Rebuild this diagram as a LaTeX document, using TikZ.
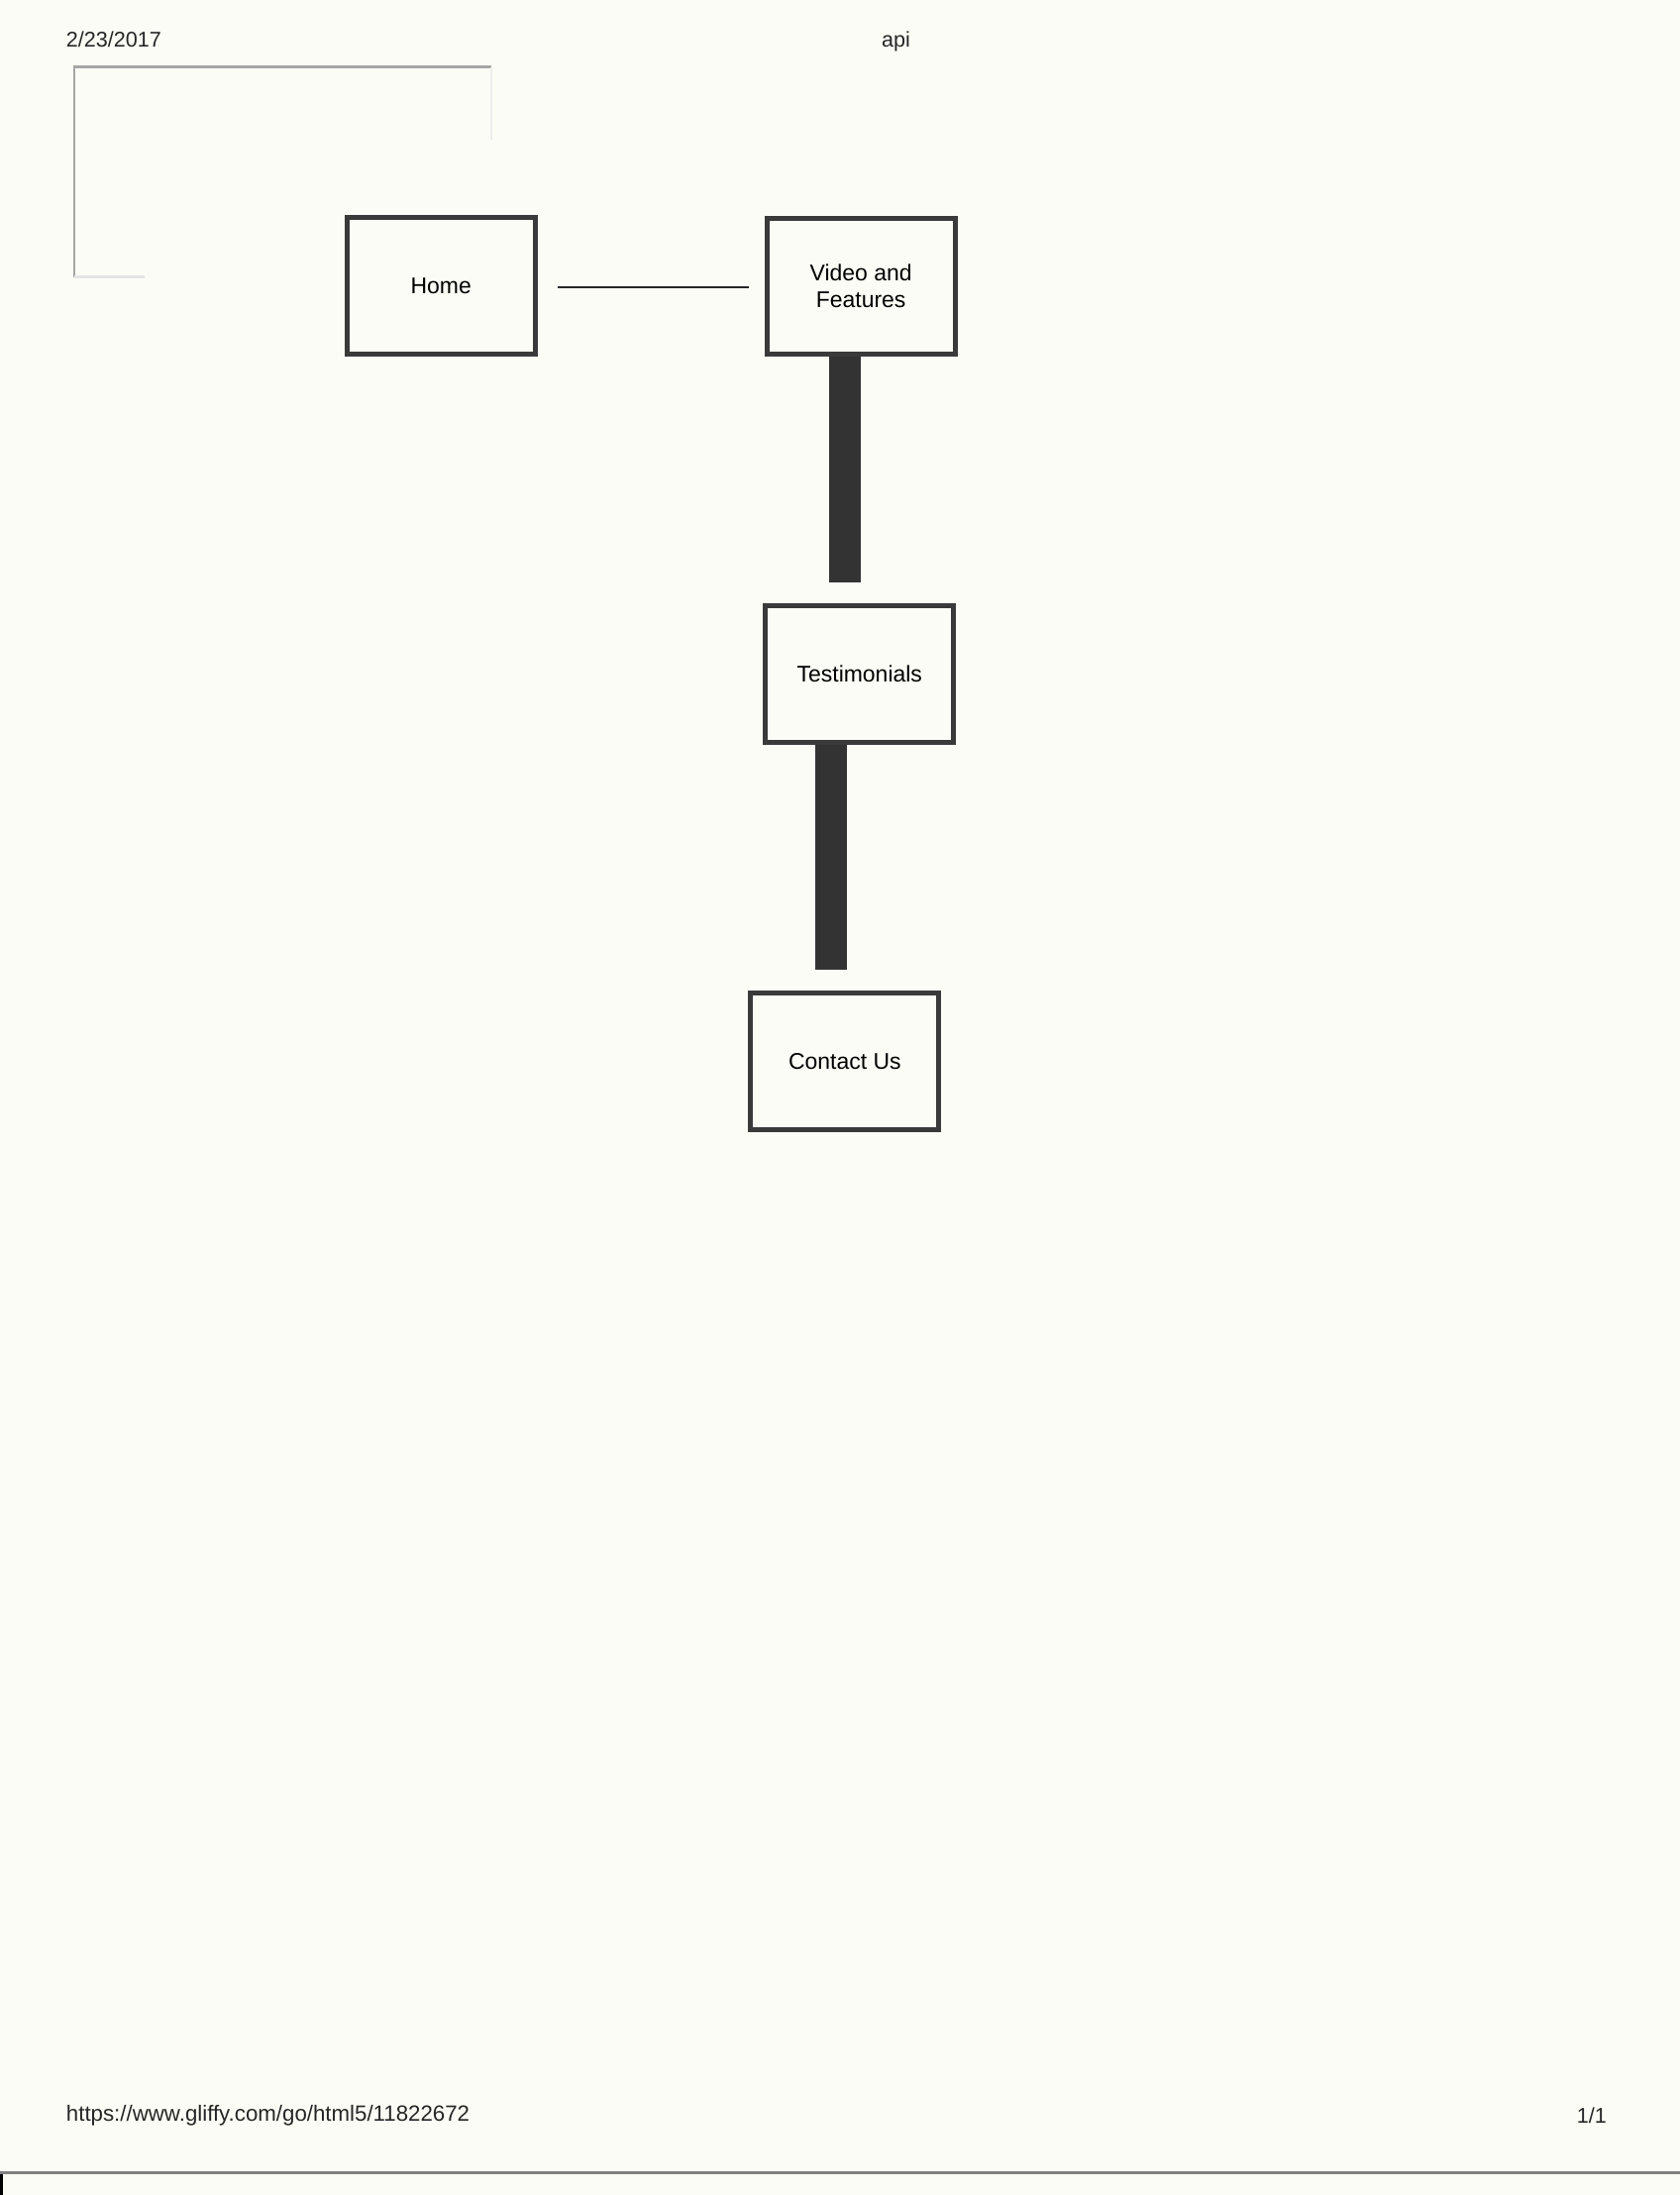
\documentclass[tikz,border=0pt]{standalone}
\usepackage{fontspec}
\setmainfont{Liberation Sans}
\usetikzlibrary{positioning}
\definecolor{paper}{RGB}{252,252,246}
\definecolor{boxline}{RGB}{58,58,58}
\definecolor{barfill}{RGB}{51,51,51}
\tikzset{
    raw page box/.style={rectangle, draw=boxline, line width=1.8pt, fill=paper, align=center, inner sep=0pt},
    page box/.style={raw page box, minimum width=68.7pt, minimum height=49.8pt, font=\fontsize{8.3}{9.8}\selectfont},
    page text/.style={font=\fontsize{7.8}{9}\selectfont, inner sep=0pt, text=black!85},
    thin link/.style={draw=black!85, line width=0.8pt},
    thick link/.style={draw=barfill, line width=11.7pt},
    frame line/.style={line width=1pt}
}
\begin{document}
\begin{tikzpicture}[x=0.017953cm, y=-0.017953cm]
		\path[use as bounding box, fill=paper] (0,0) rectangle (1200,1568);
		% print header and footer
		\node[page text, anchor=west](nodeDate) at (47,28){2/23/2017};
		\node[page text](nodeTitle) at (640,30){api};
		\node[page text, anchor=west, font=\fontsize{8.05}{9}\selectfont](nodeUrl) at (47,1511){https://www.gliffy.com/go/html5/11822672};
		\node[page text, anchor=east](nodePage) at (1148,1511){1/1};
		% faint frame in the corner
		\draw[frame line, gray!70] (351,48) -- (53,48) -- (53,198);
		\draw[frame line, gray!15] (351,48) -- (351,100);
		\draw[frame line, gray!20] (53,198) -- (103,198);
		% pages
		\node[page box](nodeHome) at (315,204){Home};
		\node[page box](nodeVideo) at (615,204.5){Video and\\Features};
		\node[page box, below = 89.9pt of nodeVideo, xshift=-0.5pt](nodeTestimonials){Testimonials};
		\node[page box, below = 89.9pt of nodeTestimonials, xshift=-5.4pt](nodeContact){Contact Us};
		% links
		\draw[thin link, shorten <=7.2pt, shorten >=5.6pt] ([yshift=-0.5pt]nodeHome.east) -- ([yshift=-0.5pt]nodeHome.east -| nodeVideo.west);
		\draw[thick link, shorten >=7.7pt] ([xshift=-5.9pt]nodeVideo.south) -- ([xshift=-5.9pt]nodeVideo.south |- nodeTestimonials.north);
		\draw[thick link, shorten >=7.7pt] ([xshift=-10.5pt]nodeTestimonials.south) -- ([xshift=-10.5pt]nodeTestimonials.south |- nodeContact.north);
		% edge of the scan
		\draw[gray, line width=1pt] (0,1552) -- (1200,1552);
		\fill[black] (0,1553) rectangle (2,1568);
\end{tikzpicture}
\end{document}
